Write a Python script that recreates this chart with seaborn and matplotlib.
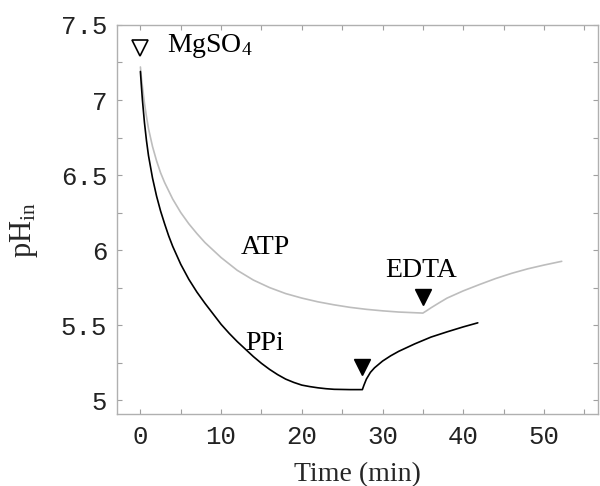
import numpy as np
import pandas as pd
import matplotlib
matplotlib.use("Agg")
import matplotlib.pyplot as plt
from matplotlib.ticker import MultipleLocator, FuncFormatter
import seaborn as sns

# ---- data ----
ppi_t = [0, 0.1, 0.25, 0.5, 0.75, 1, 1.5, 2, 2.5, 3, 3.5, 4, 5, 6, 7, 8, 9, 10, 11, 12, 13, 14, 15,
         16, 17, 18, 19, 20, 21, 22, 23, 24, 26, 27.5,
         27.7, 28, 28.5, 29, 30, 31, 32, 34, 36, 38, 40, 41.8]
ppi_v = [7.19, 7.11, 7.0, 6.85, 6.73, 6.63, 6.48, 6.36, 6.26, 6.175, 6.095, 6.025, 5.905, 5.805,
         5.72, 5.645, 5.575, 5.505, 5.445, 5.39, 5.34, 5.29, 5.245,
         5.205, 5.17, 5.14, 5.118, 5.1, 5.09, 5.082, 5.076, 5.072, 5.07, 5.07,
         5.1, 5.14, 5.185, 5.215, 5.26, 5.295, 5.325, 5.375, 5.42, 5.455, 5.488, 5.515]

atp_t = [0, 0.1, 0.25, 0.5, 0.75, 1, 1.5, 2, 2.5, 3, 4, 5, 6, 7, 8, 10, 12, 14, 16, 18, 20, 22, 24,
         26, 28, 30, 32, 35,
         35.5, 36, 37, 38, 40, 42, 44, 46, 48, 50, 52.2]
atp_v = [7.22, 7.16, 7.09, 6.98, 6.89, 6.81, 6.69, 6.595, 6.515, 6.45, 6.34, 6.25, 6.175, 6.11, 6.05,
         5.95, 5.865, 5.8, 5.75, 5.71, 5.68, 5.655, 5.635,
         5.618, 5.605, 5.595, 5.587, 5.58,
         5.597, 5.615, 5.648, 5.68, 5.728, 5.77, 5.81, 5.845, 5.875, 5.9, 5.925]

mg_marker = (0, 7.345)          # open triangle: MgSO4 addition
edta_markers_t = [27.4, 35.0]   # filled triangles: EDTA addition
edta_markers_v = [5.222, 5.689]

labels = {"MgSO$_{4}$": (3.35, 7.32), "ATP": (15.5, 5.973), "PPi": (15.4, 5.333), "EDTA": (34.8, 5.82)}

x_label = "Time (min)"
y_label = r"pH$_{\mathrm{in}}$"

# ---- build dataframe ----
df = pd.concat([
    pd.DataFrame({"t": ppi_t, "pH": ppi_v, "series": "PPi"}),
    pd.DataFrame({"t": atp_t, "pH": atp_v, "series": "ATP"}),
], ignore_index=True)

sns.set_theme(style="white")
plt.rcParams["font.family"] = ["Liberation Serif", "DejaVu Serif"]
plt.rcParams["mathtext.fontset"] = "custom"
plt.rcParams["mathtext.rm"] = "Liberation Serif"
plt.rcParams["mathtext.it"] = "Liberation Serif:italic"

fig = plt.figure(figsize=(6.0, 4.86), dpi=100)
ax = fig.add_axes([0.195, 0.148, 0.8017, 0.8006])

sns.lineplot(data=df, x="t", y="pH", hue="series", units="series", estimator=None,
             palette={"PPi": "#000000", "ATP": "#bdbdbd"}, hue_order=["ATP", "PPi"],
             linewidth=1.2, legend=False, ax=ax)

ax.plot([mg_marker[0]], [mg_marker[1]], marker="v", ms=11, mfc="white", mec="black", mew=1.2,
        linestyle="none")
ax.plot(edta_markers_t, edta_markers_v, marker="v", ms=11.5, color="black", linestyle="none")

for txt, (x, y) in labels.items():
    ha = "left" if txt.startswith("Mg") else "center"
    ax.text(x, y, txt, ha=ha, va="baseline", fontsize=20, color="black")

ax.set_xlim(-2.9, 56.7)
ax.set_ylim(4.907, 7.5)

fmt = FuncFormatter(lambda v, pos: "%g" % v)
ax.xaxis.set_major_locator(MultipleLocator(10))
ax.xaxis.set_minor_locator(MultipleLocator(5))
ax.yaxis.set_major_locator(MultipleLocator(0.5))
ax.yaxis.set_minor_locator(MultipleLocator(0.25))
ax.xaxis.set_major_formatter(fmt)
ax.yaxis.set_major_formatter(fmt)
ax.tick_params(which="both", direction="in", bottom=True, left=True, top=True, right=True,
               length=3.5, width=0.8, color="#a0a0a0")
ax.tick_params(axis="x", which="major", pad=8)
ax.tick_params(axis="y", which="major", pad=7)
for lab in ax.get_xticklabels() + ax.get_yticklabels():
    lab.set_fontfamily("Liberation Mono")
    lab.set_fontsize(18.5)
    lab.set_color("#222222")

for s in ax.spines.values():
    s.set_color("#b0b0b0")
    s.set_linewidth(1.0)

ax.set_xlabel(x_label, fontsize=20, labelpad=9)
ax.set_ylabel(y_label, fontsize=22)
ax.yaxis.set_label_coords(-0.16, 0.473)

fig.savefig("out.png", dpi=100)
